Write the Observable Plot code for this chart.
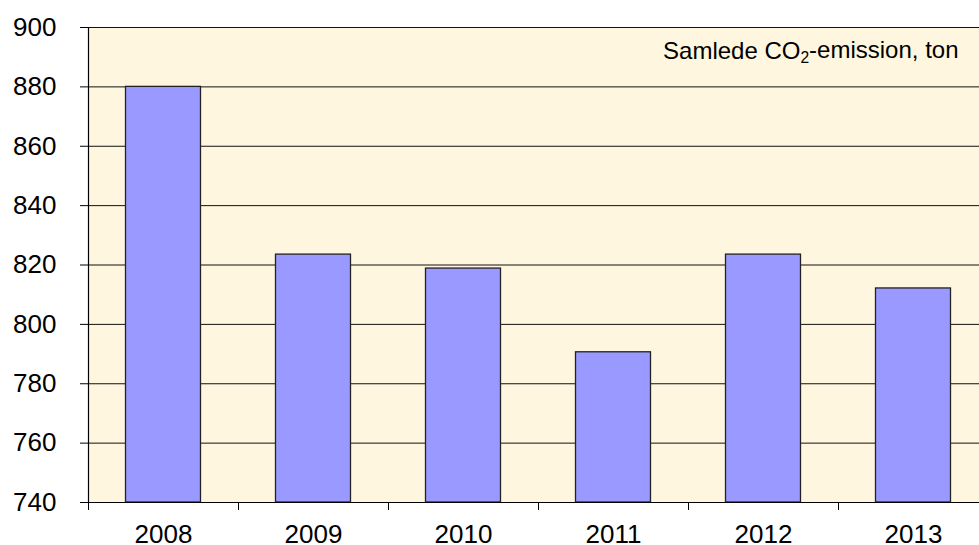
<!DOCTYPE html>
<html><head><meta charset="utf-8">
<script src="https://cdn.jsdelivr.net/npm/d3@7"></script>
<script src="https://cdn.jsdelivr.net/npm/@observablehq/plot@0.6"></script>
<style>body{margin:0;background:#fff}</style>
</head><body><div id="chart"></div>
<script>
const years = [2008, 2009, 2010, 2011, 2012, 2013];
const emissions = [880, 823.5, 818.8, 790.6, 823.5, 812.1];
const yTicks = [740, 760, 780, 800, 820, 840, 860, 880, 900];
const annotationParts = ["Samlede CO", "2", "-emission, ton"];
const annotation = annotationParts.join("");

const data = years.map((y, i) => ({year: y, value: emissions[i]}));
const boundaries = [years[0] - 0.5, ...years.map(y => y + 0.5)];

const font = "'Liberation Sans', Arial, sans-serif";

const plot = Plot.plot({
  width: 979,
  height: 545,
  marginLeft: 88,
  marginRight: 0,
  marginTop: 27,
  marginBottom: 43,
  style: {fontFamily: font, background: "#fff", color: "#000"},
  x: {domain: [years[0] - 0.5, years[years.length - 1] + 0.5], range: [88, 988], label: null},
  y: {domain: [740, 900], label: null},
  marks: [
    Plot.frame({fill: "#FFF6DF", stroke: null}),
    Plot.ruleY(yTicks.filter(t => t > 740), {stroke: "#111", strokeWidth: 1}),
    Plot.rectY(data, {x1: d => d.year - 0.25, x2: d => d.year + 0.25, y1: 740, y2: "value", fill: "#9999FF", stroke: "#222", strokeWidth: 1.3}),
    Plot.ruleX([boundaries[0]], {stroke: "#000", strokeWidth: 1.2}),
    Plot.ruleY([740], {stroke: "#000", strokeWidth: 1.2}),
    Plot.axisY({ticks: yTicks, tickSize: 8, tickPadding: 24, fontSize: 26, fill: "#000", stroke: "#000", label: null, tickFormat: d => String(d)}),
    Plot.axisX({ticks: boundaries, tickSize: 8, tickFormat: () => "", stroke: "#000", label: null}),
    Plot.axisX({ticks: years, tickSize: 0, tickPadding: 22, fontSize: 26, fill: "#000", label: null, tickFormat: d => String(d)}),
    Plot.text([annotation], {frameAnchor: "top-right", dx: -21, dy: 14, textAnchor: "end", lineAnchor: "top", fontSize: 24, fill: "#000"})
  ]
});

d3.select(plot).selectAll("text").filter(function() { return this.textContent === annotation; }).each(function() {
  const t = d3.select(this);
  t.text(null);
  t.append("tspan").text(annotationParts[0]);
  t.append("tspan").attr("font-size", "0.65em").attr("dy", "0.3em").text(annotationParts[1]);
  t.append("tspan").attr("dy", "-0.2em").text(annotationParts[2]);
});

document.getElementById("chart").appendChild(plot);
</script>
</body></html>
